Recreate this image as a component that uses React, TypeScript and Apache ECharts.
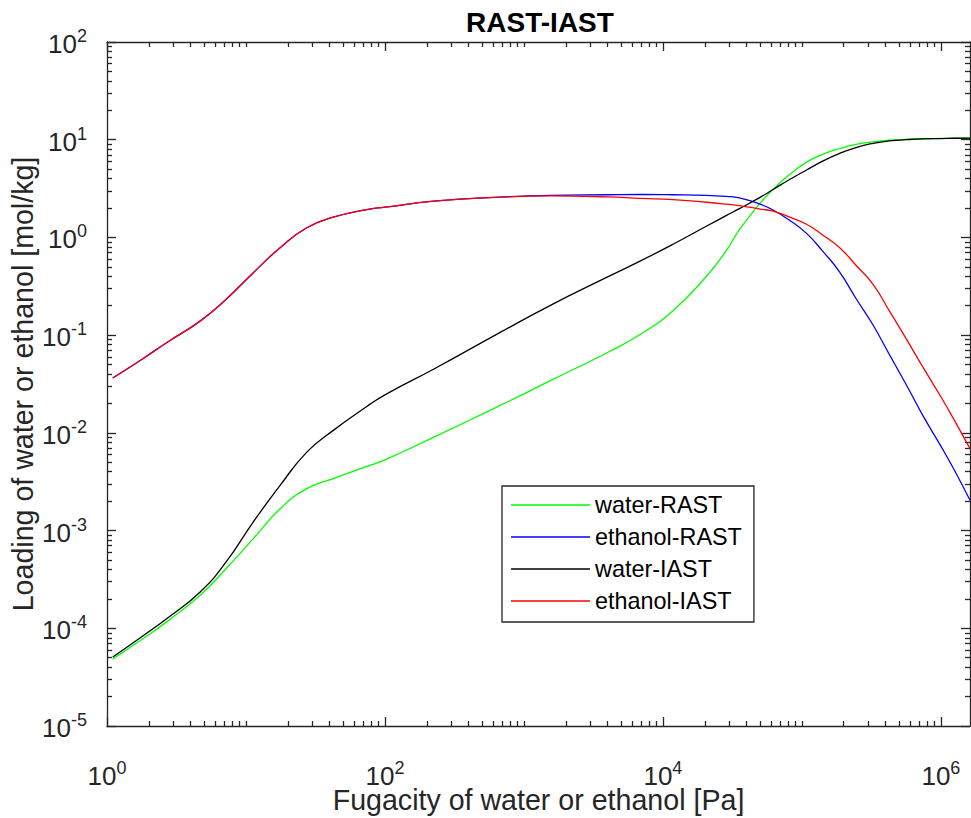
import React, { useEffect, useRef } from 'react';
import * as echarts from 'echarts';

// Fugacity of water or ethanol [Pa]
const fugacity = [
  1.1, 1.8, 2.7, 4.7, 7.2, 11.3, 17.6, 27.4, 42.5, 74, 100, 225, 670, 1550, 4000, 6900,
  11800, 20500, 28700, 35500, 50000, 62000, 81000, 108000, 141000, 187000, 245000, 325000,
  427000, 565000, 741000, 1000000, 1260000, 1620000,
];
// Loading [mol/kg]
const waterRAST = [
  4.86e-5, 7.76e-5, 1.17e-4, 2.19e-4, 4.09e-4, 8.28e-4, 1.67e-3, 2.69e-3, 3.4e-3, 4.54e-3, 5.3e-3,
  9.04e-3, 0.019, 0.0342, 0.0665, 0.102, 0.178, 0.398, 0.741, 1.2, 2.24, 3.09, 4.37, 5.89,
  7.08, 8.13, 8.95, 9.51, 9.89, 10.09, 10.23, 10.3, 10.35, 10.4,
];
const ethanolRAST = [
  0.0364, 0.0571, 0.0841, 0.14, 0.233, 0.436, 0.785, 1.256, 1.61, 1.93, 2.04, 2.35, 2.58, 2.7,
  2.735, 2.75, 2.735, 2.7, 2.63, 2.54, 2.19, 1.91, 1.51, 1.1, 0.724, 0.442, 0.237, 0.127,
  0.063, 0.0309, 0.0151, 0.00731, 0.00407, 0.00204,
];
const waterIAST = [
  5.09e-5, 8.3e-5, 1.26e-4, 2.37e-4, 4.79e-4, 1.23e-3, 2.9e-3, 6.35e-3, 0.0106, 0.0186, 0.0245,
  0.045, 0.106, 0.202, 0.394, 0.575, 0.851, 1.3, 1.68, 1.97, 2.57, 3.09, 3.89, 4.9, 6.03, 7.24,
  8.32, 9.18, 9.73, 10.0, 10.19, 10.28, 10.35, 10.4,
];
const ethanolIAST = [
  0.0364, 0.0571, 0.0841, 0.14, 0.233, 0.436, 0.785, 1.256, 1.61, 1.93, 2.04, 2.35, 2.58, 2.66,
  2.6, 2.51, 2.44, 2.29, 2.19, 2.12, 1.95, 1.86, 1.62, 1.365, 1.06, 0.785, 0.519, 0.331, 0.176,
  0.091, 0.0473, 0.0234, 0.0132, 0.0069,
];

const seriesNames = ['water-RAST', 'ethanol-RAST', 'water-IAST', 'ethanol-IAST'];
const seriesColors = ['#00ff00', '#0000ff', '#000000', '#ff0000'];

// Axis ranges and tick positions
const xRange = [1, 1620000];
const yRange = [1e-5, 100];
const xLabelValues = [1, 100, 10000, 1000000];
const xOddDecades = [10, 1000, 100000];
const xDecades = [1, 10, 100, 1000, 10000, 100000, 1000000];
const yDecades = [1e-5, 1e-4, 1e-3, 1e-2, 1e-1, 1, 10, 100];
const minorMultipliers = [2, 3, 4, 5, 6, 7, 8, 9];

const xMinorTicks = [
  ...xOddDecades,
  ...xDecades.flatMap((d) => minorMultipliers.map((m) => m * d)),
];
const yMinorTicks = yDecades.flatMap((d) => minorMultipliers.map((m) => m * d));

const FONT = '"Liberation Sans", Arial, Helvetica, sans-serif';
const AX = '#262626';

const rich = {
  b: { fontSize: 26, fontFamily: FONT, color: AX, padding: [4, 0, 0, 0], verticalAlign: 'bottom' },
  s: { fontSize: 18, fontFamily: FONT, color: AX, verticalAlign: 'top' },
};
const powFormatter = (v: number) => {
  const e = Math.round(Math.log10(v));
  return '{b|10}{s|' + e + '}';
};

function makeAxis(kind: 'x' | 'y', position: string, major: boolean, showLine: boolean, labels: number[] | null, extra: any = {}) {
  const range = kind === 'x' ? xRange : yRange;
  const ticks = major ? (kind === 'x' ? xLabelValues : yDecades) : kind === 'x' ? xMinorTicks : yMinorTicks;
  return {
    type: 'log',
    logBase: 10,
    min: range[0],
    max: range[1],
    position,
    axisLine: { show: showLine, onZero: false, lineStyle: { color: AX, width: 1.3 } },
    axisTick: {
      show: true,
      inside: true,
      length: major ? 9 : 5,
      customValues: ticks,
      lineStyle: { color: AX, width: 1.3 },
    },
    axisLabel: labels
      ? {
          show: true,
          customValues: labels,
          formatter: powFormatter,
          rich,
          margin: kind === 'x' ? 33 : 20,
        }
      : { show: false },
    splitLine: { show: false },
    minorTick: { show: false },
    minorSplitLine: { show: false },
    nameMoveOverlap: false,
    ...extra,
  };
}

export default function App() {
  const ref = useRef<HTMLDivElement>(null);
  useEffect(() => {
    if (!ref.current) return;
    const chart = echarts.init(ref.current, null, { renderer: 'svg' });
    const data = [waterRAST, ethanolRAST, waterIAST, ethanolIAST];
    const option: any = {
      animation: false,
      backgroundColor: '#ffffff',
      title: {
        text: 'RAST-IAST',
        left: 535,
        top: 3,
        textAlign: 'center',
        textStyle: { fontSize: 28, fontWeight: 'bold', fontFamily: FONT, color: '#000' },
      },
      grid: { left: 107, right: 1, top: 42, bottom: 92, containLabel: false, outerBoundsMode: 'none' },
      legend: {
        show: true,
        data: seriesNames,
        orient: 'vertical',
        left: 502,
        top: 486,
        padding: [3, 12, 5, 9],
        icon: 'rect',
        itemWidth: 79,
        itemHeight: 1.5,
        itemGap: 0,
        borderColor: AX,
        borderWidth: 1.3,
        backgroundColor: '#ffffff',
        selectedMode: false,
        textStyle: { fontSize: 23.4, fontFamily: FONT, color: '#000', lineHeight: 32 },
      },
      xAxis: [
        makeAxis('x', 'bottom', true, true, xLabelValues, {
          name: 'Fugacity of water or ethanol [Pa]',
          nameLocation: 'middle',
          nameGap: 69,
          nameTextStyle: { fontSize: 28.6, lineHeight: 10, fontFamily: FONT, color: AX },
        }),
        makeAxis('x', 'bottom', false, false, null),
        makeAxis('x', 'top', true, true, null),
        makeAxis('x', 'top', false, false, null),
      ],
      yAxis: [
        makeAxis('y', 'left', true, true, yDecades, {
          name: 'Loading of water or ethanol [mol/kg]',
          nameLocation: 'middle',
          nameGap: 70,
          nameTextStyle: { fontSize: 28.6, fontFamily: FONT, color: AX },
        }),
        makeAxis('y', 'left', false, false, null),
        makeAxis('y', 'right', true, true, null),
        makeAxis('y', 'right', false, false, null),
      ],
      series: seriesNames.map((name, i) => ({
        name,
        type: 'line',
        xAxisIndex: 0,
        yAxisIndex: 0,
        symbol: 'none',
        showSymbol: false,
        smooth: 0.5,
        data: fugacity.map((x, j) => [x, data[i][j]]),
        lineStyle: { color: seriesColors[i], width: 1.3 },
        itemStyle: { color: seriesColors[i] },
        z: 2 + i,
      })),
    };
    chart.setOption(option);
    return () => chart.dispose();
  }, []);
  return (
    <div
      ref={ref}
      style={{ position: 'fixed', left: 0, top: 0, width: 971, height: 818, background: '#fff' }}
    />
  );
}
